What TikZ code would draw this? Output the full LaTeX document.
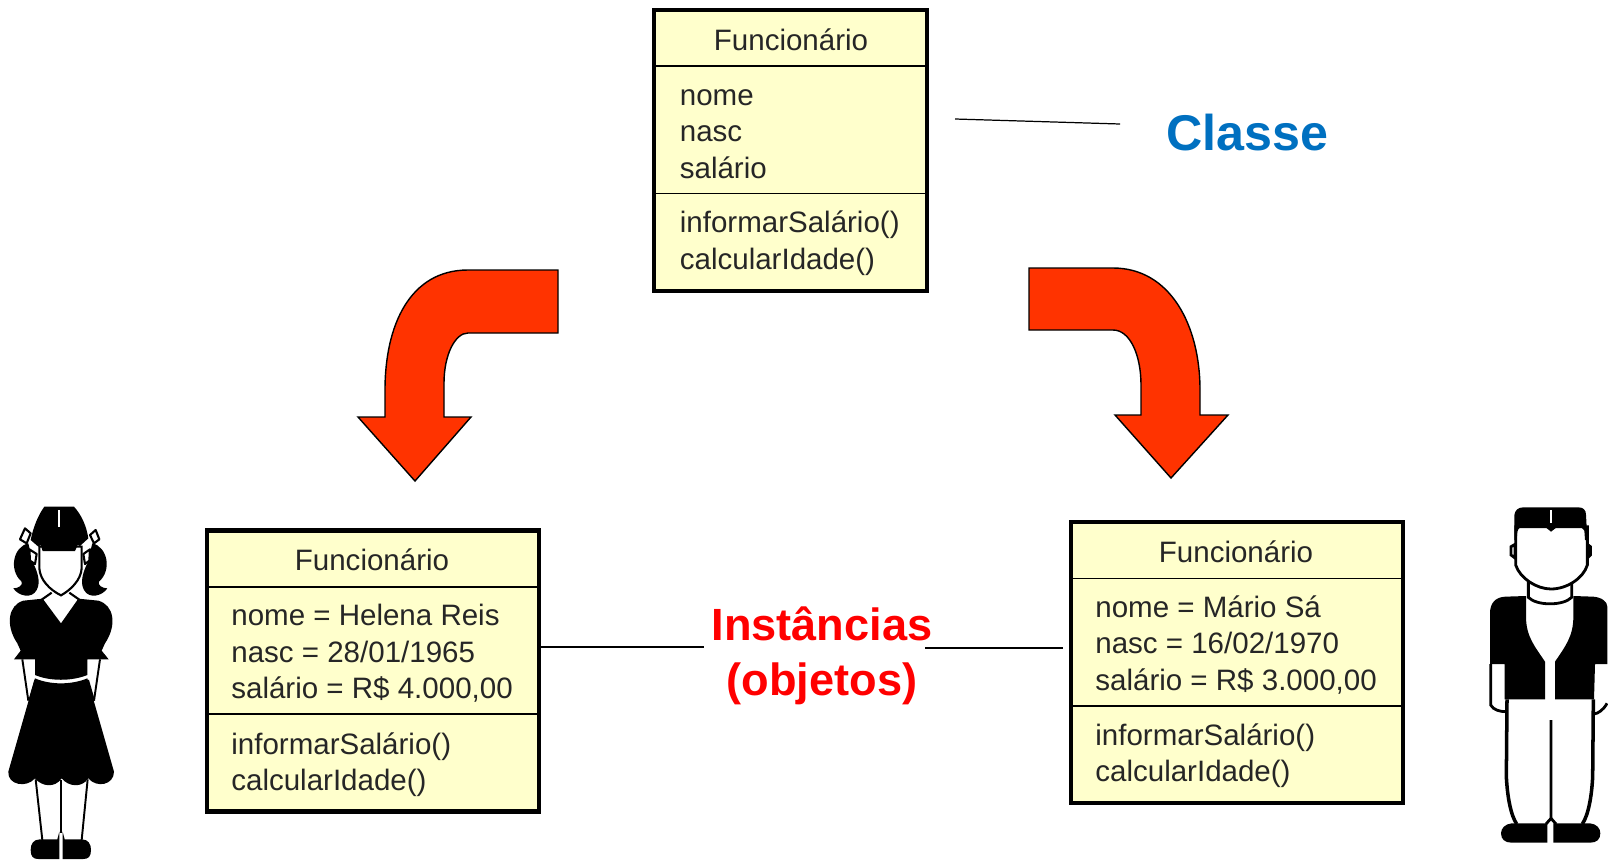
\documentclass[tikz,border=0pt]{standalone}
\usepackage{fontspec}
\setmainfont{Liberation Sans}
\usetikzlibrary{positioning}
\definecolor{boxyellow}{HTML}{FFFFCC}
\definecolor{arrowred}{HTML}{FF3300}
\definecolor{labelblue}{HTML}{0070C0}
\tikzstyle{umlbox} = [draw, line width=2.4pt, fill=boxyellow, anchor=north west, inner sep=0pt, outer sep=0pt, minimum height=5.62cm]
\tikzstyle{umltext} = [anchor=base west, inner sep=0pt, align=left, font=\fontsize{16.8}{20.7}\selectfont, text=black!85]
\tikzstyle{divider} = [line width=0.9pt]
\tikzstyle{link} = [line width=0.7pt]
\tikzstyle{bigarrow} = [draw, line width=0.8pt, fill=arrowred, line join=miter]
\tikzstyle{bigtext} = [inner sep=0pt, align=center, font=\bfseries\fontsize{25.7}{31}\selectfont]
\tikzstyle{thin} = [line width=1.2pt]

\begin{document}
\begin{tikzpicture}[x=0.02cm, y=-0.02cm]
	\useasboundingbox (0, 0) rectangle (1608, 859);

	\node[umlbox, minimum width=5.45cm](classbox) at (654.3, 10){};
	\draw[divider](classbox.west |- 0, 66) -- (classbox.east |- 0, 66);
	\draw[divider](classbox.west |- 0, 193.3) -- (classbox.east |- 0, 193.3);
	\node[umltext, anchor=base](classtitle) at (791, 50){Funcionário};
	\node[umltext](classattr) at (679.5, 178){nome\\nasc\\salário};
	\node[umltext](classops) at (679.5, 269){informarSalário()\\calcularIdade()};

	\node[umlbox, minimum width=6.64cm](leftbox) at (207, 530.5){};
	\draw[divider](leftbox.west |- 0, 586.7) -- (leftbox.east |- 0, 586.7);
	\draw[divider](leftbox.west |- 0, 714) -- (leftbox.east |- 0, 714);
	\node[umltext, anchor=base](lefttitle) at (372, 570.7){Funcionário};
	\node[umltext](leftattr) at (231, 698.7){nome = Helena Reis\\nasc = 28/01/1965\\salário = R\$ 4.000,00};
	\node[umltext](leftops) at (231, 790.7){informarSalário()\\calcularIdade()};

	\node[umlbox, minimum width=6.64cm](rightbox) at (1071, 522.3){};
	\draw[divider](rightbox.west |- 0, 578.3) -- (rightbox.east |- 0, 578.3);
	\draw[divider](rightbox.west |- 0, 705.7) -- (rightbox.east |- 0, 705.7);
	\node[umltext, anchor=base](righttitle) at (1236, 562.5){Funcionário};
	\node[umltext](rightattr) at (1095, 690){nome = Mário Sá\\nasc = 16/02/1970\\salário = R\$ 3.000,00};
	\node[umltext](rightops) at (1095, 781.7){informarSalário()\\calcularIdade()};

	\node[bigtext, text=labelblue, font=\bfseries\fontsize{28.6}{34}\selectfont](classlabel) at (1247, 133){Classe};
	\node[bigtext, text=red](instlabel) at (822, 656){Instâncias\\(objetos)};

	\coordinate (classnear) at (955, 119);
	\coordinate (classfar) at (1120, 124);
	\coordinate (leftend) at (704, 647);
	\coordinate (rightstart) at (925, 648);
	\coordinate (rightend) at (1063, 648);
	\draw[link](classnear) -- (classfar);
	\draw[link](leftbox.east |- leftend) -- (leftend);
	\draw[link](rightstart) -- (rightend);

	\path[bigarrow](558, 270) -- (468, 270) .. controls (410, 270) and (385, 325) .. (385, 390) -- (385, 417) -- (358, 417) -- (415, 481) -- (471, 417) -- (444, 417) -- (444, 383) .. controls (444, 355) and (455, 333) .. (468, 333) -- (558, 333) -- cycle;
	\path[bigarrow](1029, 268) -- (1113, 268) .. controls (1170, 268) and (1200, 325) .. (1200, 390) -- (1200, 415) -- (1228, 415) -- (1171, 478) -- (1115, 415) -- (1141, 415) -- (1141, 385) .. controls (1141, 355) and (1130, 330) .. (1113, 330) -- (1029, 330) -- cycle;

	\begin{scope}[shift={(0, 490)}, scale=1/3]
		\fill (85, 160) .. controls (40, 170) and (25, 240) .. (65, 275) .. controls (70, 285) and (55, 295) .. (40, 295) .. controls (55, 318) and (95, 328) .. (110, 300) .. controls (124, 275) and (110, 240) .. (100, 220) -- cycle;
		\fill (277, 160) .. controls (322, 170) and (337, 240) .. (297, 275) .. controls (292, 285) and (307, 295) .. (322, 295) .. controls (307, 318) and (267, 328) .. (252, 300) .. controls (238, 275) and (252, 240) .. (262, 220) -- cycle;
		\draw[thin, fill=white, line join=round](75, 115) -- (92, 130) -- (80, 160) -- (60, 148) -- cycle;
		\draw[thin, fill=white, line join=round](287, 120) -- (270, 135) -- (282, 160) -- (298, 148) -- cycle;
		\draw[thin, fill=white, line join=round](88, 178) -- (110, 192) -- (105, 222) -- (90, 212) -- cycle;
		\draw[thin, fill=white, line join=round](270, 178) -- (250, 192) -- (255, 222) -- (268, 212) -- cycle;
		\draw[thin, fill=white](118, 170) -- (118, 235) .. controls (120, 270) and (150, 300) .. (183, 316) .. controls (212, 300) and (243, 270) .. (245, 235) -- (245, 170) -- cycle;
		\fill (133, 50) -- (222, 50) .. controls (245, 75) and (260, 110) .. (265, 145) -- (240, 168) -- (233, 165) -- (225, 183) -- (128, 183) -- (122, 165) -- (115, 170) -- (92, 150) .. controls (100, 110) and (115, 75) .. (133, 50) -- cycle;
		\draw[white, thin](177, 60) -- (177, 110);
		\fill (128, 326) -- (70, 332) .. controls (25, 345) and (15, 405) .. (52, 460) -- (62, 482) -- (42, 508) -- (105, 508) -- (105, 555) .. controls (150, 574) and (215, 574) .. (262, 555) -- (262, 508) -- (326, 508) -- (305, 482) -- (315, 460) .. controls (352, 405) and (342, 345) .. (295, 332) -- (235, 326) -- (183, 400) -- cycle;
		\draw[thin](155, 308) -- (125, 329);
		\draw[thin](208, 308) -- (238, 329);
		\draw[line width=1.1pt](67, 508) -- (85, 632);
		\draw[line width=1.1pt](300, 508) -- (282, 632);
		\draw[line width=1.1pt](106, 570) -- (88, 632);
		\draw[line width=1.1pt](264, 570) -- (282, 632);
		\fill (105, 565) .. controls (150, 585) and (215, 585) .. (262, 565) -- (342, 845) .. controls (342, 885) and (290, 895) .. (265, 865) .. controls (245, 895) and (205, 890) .. (185, 865) .. controls (165, 895) and (125, 890) .. (105, 865) .. controls (80, 895) and (22, 885) .. (25, 845) -- cycle;
		\draw[line width=1.1pt](107, 868) -- (127, 1050);
		\draw[line width=1.1pt](184, 870) -- (184, 1030);
		\draw[line width=1.1pt](263, 868) -- (245, 1050);
		\fill (178, 1025) -- (172, 1048) -- (120, 1048) .. controls (100, 1048) and (92, 1062) .. (92, 1080) .. controls (92, 1100) and (100, 1107) .. (115, 1107) -- (178, 1107) -- cycle;
		\fill (188, 1025) -- (194, 1048) -- (245, 1048) .. controls (265, 1048) and (273, 1062) .. (273, 1080) .. controls (273, 1100) and (265, 1107) .. (250, 1107) -- (188, 1107) -- cycle;
	\end{scope}

	\begin{scope}[shift={(1470, 490)}, scale=1/3]
		\draw[line width=1.6pt](175, 275) -- (175, 322) .. controls (200, 348) and (280, 348) .. (305, 322) -- (305, 275);
		\draw[line width=1.6pt, fill=white](135, 163) -- (123, 170) -- (123, 195) -- (135, 204) -- cycle;
		\draw[line width=1.6pt, fill=white](352, 163) -- (361, 170) -- (361, 195) -- (352, 204) -- cycle;
		\draw[line width=1.6pt, fill=white](137, 110) -- (137, 225) .. controls (150, 265) and (200, 297) .. (243, 297) .. controls (290, 297) and (340, 265) .. (352, 225) -- (352, 110) -- cycle;
		\fill (133, 75) .. controls (135, 60) and (145, 52) .. (160, 52) -- (325, 52) .. controls (340, 52) and (348, 60) .. (348, 75) -- (352, 150) -- (345, 150) -- (343, 122) .. controls (335, 110) and (325, 108) .. (315, 108) -- (265, 108) -- (243, 125) -- (222, 108) -- (170, 108) .. controls (155, 108) and (145, 112) .. (142, 125) -- (140, 150) -- (133, 150) -- cycle;
		\draw[white, thin](243, 60) -- (243, 100);
		\fill (168, 318) -- (105, 320) .. controls (75, 322) and (60, 340) .. (60, 370) -- (60, 522) -- (104, 522) -- (104, 628) -- (225, 628) -- (225, 515) .. controls (195, 470) and (168, 440) .. (168, 380) -- cycle;
		\fill (310, 318) -- (370, 320) .. controls (395, 322) and (412, 335) .. (412, 350) -- (412, 522) -- (375, 522) -- (372, 628) -- (255, 628) -- (255, 515) .. controls (285, 470) and (310, 440) .. (310, 380) -- cycle;
		\draw[line width=1.6pt](62, 522) -- (62, 645) .. controls (70, 660) and (90, 665) .. (108, 665);
		\draw[line width=1.6pt](411, 640) .. controls (400, 660) and (385, 670) .. (372, 672);
		\draw[line width=2pt](111, 628) -- (109, 860) .. controls (112, 920) and (122, 975) .. (140, 1002);
		\draw[line width=2pt](370, 628) -- (368, 860) .. controls (365, 920) and (355, 975) .. (337, 1002);
		\draw[line width=1.6pt](243, 690) -- (243, 985) -- (228, 1002);
		\draw[line width=1.6pt](243, 985) -- (258, 1002);
		\fill (232, 1000) -- (125, 1000) .. controls (105, 1002) and (93, 1015) .. (93, 1030) .. controls (93, 1048) and (105, 1058) .. (125, 1058) -- (232, 1058) -- cycle;
		\fill (250, 1000) -- (360, 1000) .. controls (380, 1002) and (391, 1015) .. (391, 1030) .. controls (391, 1048) and (380, 1058) .. (360, 1058) -- (250, 1058) -- cycle;
	\end{scope}
\end{tikzpicture}
\end{document}
